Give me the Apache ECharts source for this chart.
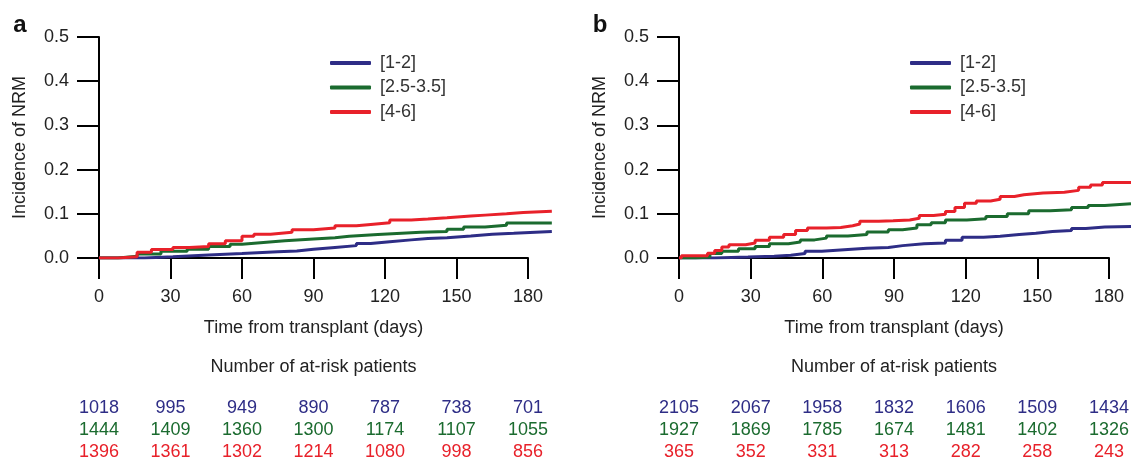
<!DOCTYPE html>
<html>
<head>
<meta charset="utf-8">
<script src="https://cdn.jsdelivr.net/npm/echarts@6/dist/echarts.min.js"></script>
<style>
  html, body { margin: 0; padding: 0; background: #fff; }
  #chart { width: 1131px; height: 461px; }
</style>
</head>
<body>
<div id="chart"></div>
<script>
// groups and colours
const groups = ['[1-2]', '[2.5-3.5]', '[4-6]'];
const colors = ['#2e2d86', '#1b6b2f', '#e8212a'];
const xTicks = [0, 30, 60, 90, 120, 150, 180];

// panel a : cumulative incidence, [day, value] at each step
const aBlue = [[0, 0], [19, 0.003], [31, 0.007], [46, 0.010], [60, 0.014], [75, 0.016], [83, 0.020],
  [90, 0.024], [99, 0.028], [108, 0.033], [114, 0.037], [122, 0.041], [131, 0.044], [138, 0.046],
  [146, 0.050], [156, 0.054], [165, 0.056], [174, 0.060], [190, 0.060]];
const aGreen = [[0, 0], [8, 0.004], [16, 0.009], [26, 0.015], [37, 0.020], [46, 0.026], [55, 0.031],
  [60, 0.035], [69, 0.039], [78, 0.043], [90, 0.046], [99, 0.049], [105, 0.053], [117, 0.055],
  [123, 0.058], [135, 0.060], [146, 0.065], [153, 0.070], [162, 0.074], [171, 0.079], [190, 0.080]];
const aRed = [[0, 0], [8, 0.003], [16, 0.013], [22, 0.019], [31, 0.024], [38, 0.026], [46, 0.032],
  [53, 0.039], [60, 0.049], [65, 0.054], [72, 0.058], [81, 0.064], [90, 0.068], [99, 0.073],
  [108, 0.076], [114, 0.080], [122, 0.086], [131, 0.088], [138, 0.091], [146, 0.095], [156, 0.097],
  [162, 0.100], [171, 0.103], [178, 0.106], [190, 0.106]];

// panel b
const bBlue = [[0, 0], [15, 0.002], [29, 0.004], [40, 0.006], [47, 0.010], [53, 0.015], [60, 0.019],
  [71, 0.022], [79, 0.024], [88, 0.028], [94, 0.032], [103, 0.034], [112, 0.040], [119, 0.047],
  [128, 0.049], [135, 0.053], [143, 0.056], [150, 0.060], [157, 0.062], [165, 0.067], [171, 0.070],
  [179, 0.071], [190, 0.071]];
const bGreen = [[0, 0], [7, 0.002], [13, 0.010], [18, 0.015], [25, 0.021], [32, 0.026], [38, 0.032],
  [46, 0.036], [51, 0.041], [57, 0.045], [62, 0.050], [71, 0.053], [79, 0.059], [88, 0.064],
  [94, 0.068], [100, 0.075], [106, 0.080], [112, 0.086], [121, 0.089], [129, 0.094], [138, 0.100],
  [147, 0.107], [156, 0.109], [165, 0.114], [172, 0.119], [179, 0.123], [190, 0.124]];
const bRed = [[0, 0], [1, 0.005], [12, 0.011], [15, 0.017], [18, 0.025], [21, 0.030], [28, 0.034],
  [32, 0.040], [38, 0.047], [44, 0.053], [49, 0.062], [54, 0.068], [62, 0.069], [68, 0.073],
  [73, 0.077], [76, 0.083], [84, 0.084], [90, 0.086], [97, 0.090], [101, 0.096], [107, 0.099],
  [112, 0.105], [116, 0.114], [120, 0.124], [125, 0.129], [131, 0.133], [135, 0.139], [141, 0.143],
  [145, 0.147], [153, 0.149], [162, 0.153], [168, 0.160], [173, 0.165], [178, 0.171], [190, 0.171]];

// number of at-risk patients at each x tick
const atRiskA = [
  [1018, 995, 949, 890, 787, 738, 701],
  [1444, 1409, 1360, 1300, 1174, 1107, 1055],
  [1396, 1361, 1302, 1214, 1080, 998, 856]
];
const atRiskB = [
  [2105, 2067, 1958, 1832, 1606, 1509, 1434],
  [1927, 1869, 1785, 1674, 1481, 1402, 1326],
  [365, 352, 331, 313, 282, 258, 243]
];

const FONT = '"Liberation Sans", Arial, Helvetica, sans-serif';
const AXIS_MAX = 180, DATA_MAX = 190;
const chart = echarts.init(document.getElementById('chart'));

// visible axes end at day 180, the curves run on a little further
const panels = [{ left: 99, width: 429 }, { left: 679, width: 430 }];
const grids = [];
panels.forEach(p => grids.push({ left: p.left, top: 37, width: p.width, height: 221 }));
panels.forEach(p => grids.push({ left: p.left, top: 37, width: p.width * DATA_MAX / AXIS_MAX, height: 221 }));

function xAxisFor(i) {
  return {
    type: 'value', gridIndex: i, min: 0, max: AXIS_MAX, interval: 30,
    name: 'Time from transplant (days)', nameLocation: 'middle', nameGap: 61,
    nameTextStyle: { fontSize: 18, color: '#222', fontFamily: FONT },
    axisLine: { lineStyle: { color: '#000', width: 2 } },
    axisTick: { length: 21, lineStyle: { color: '#000', width: 2 } },
    axisLabel: { margin: 30, fontSize: 18, color: '#222', fontFamily: FONT },
    splitLine: { show: false }
  };
}

function yAxisFor(i) {
  return {
    type: 'value', gridIndex: i, min: 0, max: 0.5, interval: 0.1,
    name: 'Incidence of NRM', nameLocation: 'middle', nameGap: 70, nameRotate: 90,
    nameTextStyle: { fontSize: 18, color: '#222', fontFamily: FONT },
    axisLine: { show: true, lineStyle: { color: '#000', width: 2 } },
    axisTick: { show: true, length: 22, lineStyle: { color: '#000', width: 2 } },
    axisLabel: { margin: 30, fontSize: 18, color: '#222', fontFamily: FONT,
      formatter: v => v.toFixed(1) },
    splitLine: { show: false }
  };
}

function hiddenX(i) {
  return { type: 'value', gridIndex: i, min: 0, max: DATA_MAX, show: false, splitLine: { show: false } };
}
function hiddenY(i) {
  return { type: 'value', gridIndex: i, min: 0, max: 0.5, show: false, splitLine: { show: false } };
}

function curve(name, data, idx, color) {
  return {
    name: name, type: 'line', xAxisIndex: idx, yAxisIndex: idx,
    data: data, step: 'end', showSymbol: false, animation: false, z: 1,
    lineStyle: { color: color, width: 3 }, itemStyle: { color: color }
  };
}

function legendAt(left) {
  return {
    orient: 'vertical', left: left, top: 54, padding: 0, itemWidth: 41, itemHeight: 4, itemGap: 6.5,
    icon: 'roundRect', selectedMode: false, data: groups,
    textStyle: { fontSize: 18, color: '#333', fontFamily: FONT, padding: [0, 0, 0, 4] }
  };
}

chart.setOption({
  animation: false,
  grid: grids,
  xAxis: [xAxisFor(0), xAxisFor(1), hiddenX(2), hiddenX(3)],
  yAxis: [yAxisFor(0), yAxisFor(1), hiddenY(2), hiddenY(3)],
  legend: [legendAt(330), legendAt(910)],
  series: [
    curve(groups[0], aBlue, 2, colors[0]),
    curve(groups[1], aGreen, 2, colors[1]),
    curve(groups[2], aRed, 2, colors[2]),
    curve(groups[0], bBlue, 3, colors[0]),
    curve(groups[1], bGreen, 3, colors[1]),
    curve(groups[2], bRed, 3, colors[2])
  ]
});

// at-risk table and panel letters, placed through the x scales
const rowY = [408, 430, 452];
const elements = [];
[atRiskA, atRiskB].forEach((table, p) => {
  const x0 = chart.convertToPixel({ xAxisIndex: p }, 0);
  const x1 = chart.convertToPixel({ xAxisIndex: p }, AXIS_MAX);
  elements.push({
    type: 'text', x: (x0 + x1) / 2, y: 367,
    style: { text: 'Number of at-risk patients', fontSize: 18, fill: '#222', fontFamily: FONT,
      align: 'center', verticalAlign: 'middle' }
  });
  elements.push({
    type: 'text', x: x0 - 79, y: 25,
    style: { text: p === 0 ? 'a' : 'b', fontSize: 24, fontWeight: 'bold', fill: '#111',
      fontFamily: FONT, align: 'center', verticalAlign: 'middle' }
  });
  table.forEach((row, r) => {
    row.forEach((n, k) => {
      elements.push({
        type: 'text', x: chart.convertToPixel({ xAxisIndex: p }, xTicks[k]), y: rowY[r],
        style: { text: String(n), fontSize: 18, fill: colors[r], fontFamily: FONT,
          align: 'center', verticalAlign: 'middle' }
      });
    });
  });
});
chart.setOption({ graphic: elements });
</script>
</body>
</html>
